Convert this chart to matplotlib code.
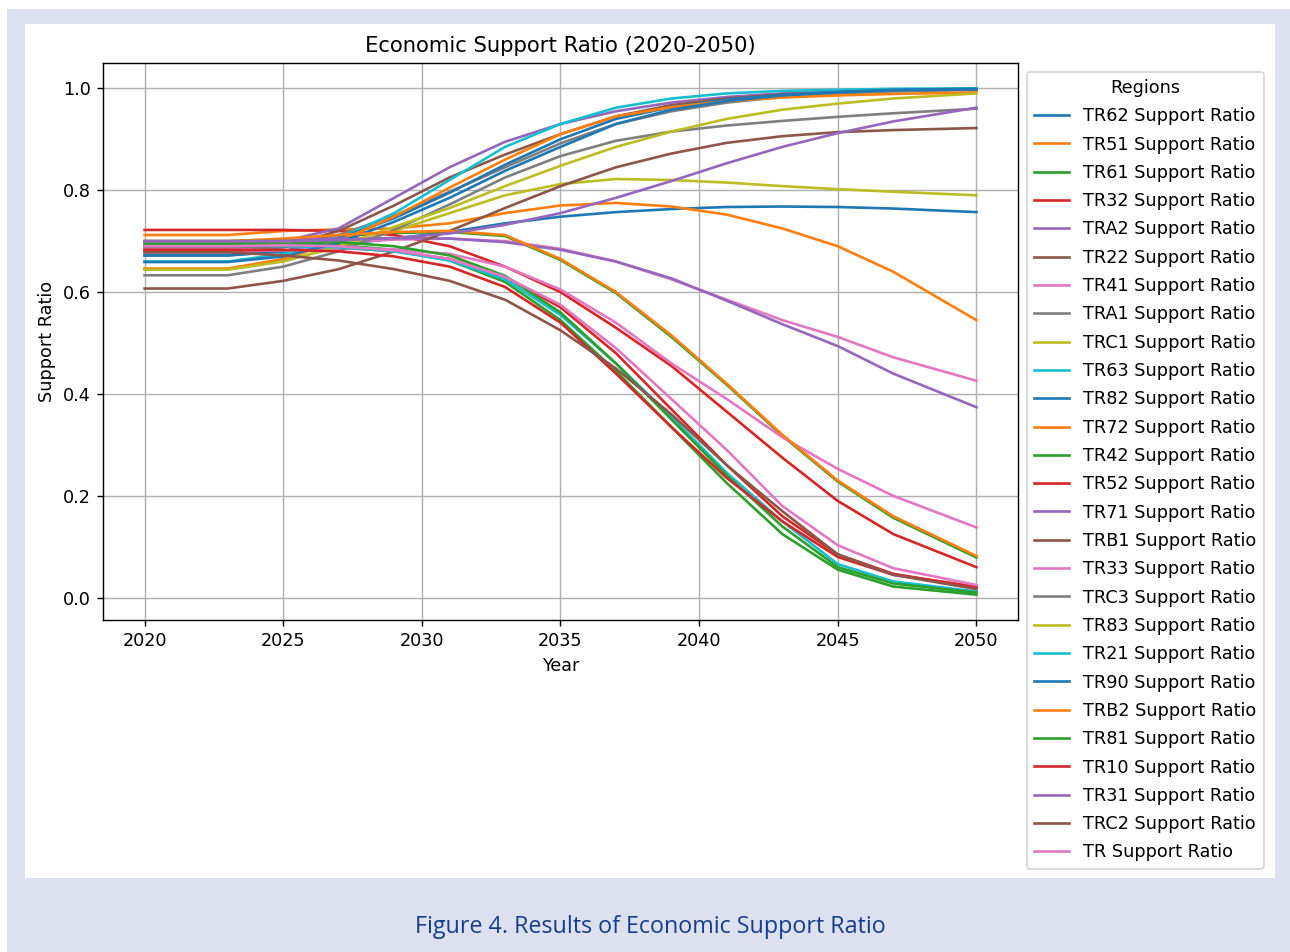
import matplotlib
matplotlib.use("Agg")
import matplotlib.pyplot as plt
from matplotlib.patches import Rectangle

# Projection years (series are flat until 2023, then diverge)
years = [2020, 2023, 2025, 2027, 2029, 2031, 2033, 2035, 2037, 2039, 2041, 2043, 2045, 2047, 2050]

TR62 = [0.672, 0.672, 0.680, 0.693, 0.705, 0.718, 0.735, 0.748, 0.757, 0.763, 0.767, 0.768, 0.767, 0.764, 0.757]
TR51 = [0.712, 0.712, 0.720, 0.723, 0.725, 0.735, 0.755, 0.770, 0.775, 0.768, 0.752, 0.725, 0.690, 0.640, 0.545]
TR61 = [0.698, 0.698, 0.703, 0.710, 0.716, 0.718, 0.710, 0.663, 0.598, 0.512, 0.418, 0.318, 0.228, 0.157, 0.079]
TR32 = [0.722, 0.722, 0.722, 0.720, 0.712, 0.690, 0.650, 0.600, 0.530, 0.455, 0.365, 0.275, 0.190, 0.125, 0.060]
TRA2 = [0.697, 0.697, 0.700, 0.725, 0.785, 0.845, 0.895, 0.930, 0.955, 0.972, 0.983, 0.990, 0.994, 0.997, 0.999]
TR22 = [0.680, 0.680, 0.690, 0.720, 0.770, 0.825, 0.870, 0.910, 0.945, 0.967, 0.980, 0.988, 0.993, 0.996, 0.998]
TR41 = [0.685, 0.685, 0.690, 0.697, 0.703, 0.705, 0.700, 0.685, 0.660, 0.625, 0.585, 0.545, 0.512, 0.472, 0.426]
TRA1 = [0.678, 0.678, 0.688, 0.712, 0.750, 0.797, 0.845, 0.892, 0.930, 0.955, 0.972, 0.983, 0.990, 0.994, 0.997]
TRC1 = [0.646, 0.646, 0.662, 0.688, 0.720, 0.755, 0.790, 0.812, 0.822, 0.820, 0.815, 0.808, 0.802, 0.797, 0.790]
TR63 = [0.660, 0.660, 0.675, 0.705, 0.755, 0.820, 0.885, 0.930, 0.962, 0.980, 0.990, 0.995, 0.997, 0.999, 1.000]
TR82 = [0.672, 0.672, 0.680, 0.705, 0.745, 0.795, 0.850, 0.900, 0.940, 0.963, 0.978, 0.987, 0.993, 0.997, 0.999]
TR72 = [0.646, 0.646, 0.665, 0.700, 0.748, 0.805, 0.860, 0.910, 0.945, 0.963, 0.975, 0.982, 0.986, 0.989, 0.992]
TR42 = [0.695, 0.695, 0.695, 0.692, 0.683, 0.662, 0.620, 0.545, 0.445, 0.335, 0.225, 0.125, 0.055, 0.022, 0.006]
TR52 = [0.688, 0.688, 0.690, 0.688, 0.680, 0.665, 0.630, 0.570, 0.480, 0.370, 0.260, 0.160, 0.085, 0.047, 0.020]
TR71 = [0.700, 0.700, 0.702, 0.705, 0.706, 0.705, 0.698, 0.683, 0.660, 0.627, 0.583, 0.537, 0.494, 0.440, 0.374]
TRB1 = [0.607, 0.607, 0.622, 0.645, 0.680, 0.720, 0.765, 0.808, 0.845, 0.872, 0.893, 0.906, 0.914, 0.918, 0.922]
TR33 = [0.680, 0.680, 0.682, 0.685, 0.684, 0.675, 0.650, 0.605, 0.540, 0.460, 0.390, 0.315, 0.253, 0.200, 0.138]
TRC3 = [0.633, 0.633, 0.650, 0.680, 0.722, 0.772, 0.825, 0.867, 0.897, 0.915, 0.927, 0.936, 0.944, 0.951, 0.960]
TR83 = [0.644, 0.644, 0.660, 0.690, 0.728, 0.765, 0.808, 0.848, 0.885, 0.915, 0.940, 0.958, 0.970, 0.980, 0.990]
TR21 = [0.690, 0.690, 0.690, 0.688, 0.680, 0.662, 0.625, 0.555, 0.460, 0.355, 0.245, 0.150, 0.066, 0.032, 0.012]
TR90 = [0.659, 0.659, 0.670, 0.697, 0.738, 0.785, 0.838, 0.885, 0.930, 0.958, 0.975, 0.986, 0.992, 0.996, 0.998]
TRB2 = [0.700, 0.700, 0.705, 0.712, 0.718, 0.720, 0.712, 0.665, 0.600, 0.515, 0.420, 0.320, 0.230, 0.160, 0.082]
TR81 = [0.700, 0.700, 0.700, 0.698, 0.690, 0.672, 0.632, 0.560, 0.460, 0.350, 0.240, 0.140, 0.060, 0.028, 0.010]
TR10 = [0.682, 0.682, 0.683, 0.680, 0.670, 0.650, 0.610, 0.540, 0.440, 0.335, 0.235, 0.150, 0.080, 0.045, 0.022]
TR31 = [0.700, 0.700, 0.700, 0.702, 0.706, 0.715, 0.732, 0.755, 0.785, 0.818, 0.853, 0.885, 0.912, 0.935, 0.962]
TRC2 = [0.678, 0.678, 0.672, 0.662, 0.645, 0.622, 0.585, 0.525, 0.450, 0.360, 0.260, 0.170, 0.085, 0.045, 0.017]
TR = [0.690, 0.690, 0.692, 0.690, 0.682, 0.665, 0.630, 0.575, 0.490, 0.390, 0.290, 0.180, 0.103, 0.058, 0.025]

region_names = ["TR62", "TR51", "TR61", "TR32", "TRA2", "TR22", "TR41", "TRA1", "TRC1",
                "TR63", "TR82", "TR72", "TR42", "TR52", "TR71", "TRB1", "TR33", "TRC3",
                "TR83", "TR21", "TR90", "TRB2", "TR81", "TR10", "TR31", "TRC2", "TR"]
region_values = [TR62, TR51, TR61, TR32, TRA2, TR22, TR41, TRA1, TRC1,
                 TR63, TR82, TR72, TR42, TR52, TR71, TRB1, TR33, TRC3,
                 TR83, TR21, TR90, TRB2, TR81, TR10, TR31, TRC2, TR]

DPI = 127
fig = plt.figure(figsize=(1290 / DPI, 952 / DPI), dpi=DPI)
fig.patch.set_facecolor("white")

# page background and white card
W, H = 1290.0, 952.0
fig.patches.append(Rectangle((7 / W, 0), 1 - 7 / W, (H - 9) / H,
                             transform=fig.transFigure, facecolor="#dde0ee",
                             edgecolor="none", zorder=-10))
fig.patches.append(Rectangle((25 / W, (H - 878) / H), 1250 / W, (878 - 24) / H,
                             transform=fig.transFigure, facecolor="white",
                             edgecolor="none", zorder=-9))

ax = fig.add_axes([103 / W, (H - 620) / H, 915 / W, 557 / H])
for name, vals in zip(region_names, region_values):
    ax.plot(years, vals, label=f"{name} Support Ratio")

ax.set_title("Economic Support Ratio (2020-2050)")
ax.set_xlabel("Year")
ax.set_ylabel("Support Ratio")
ax.grid(True)
ax.legend(title="Regions", loc="upper left", bbox_to_anchor=(1, 1),
          labelspacing=0.585)

fig.text(650 / W, (H - 927) / H, "Figure 4. Results of Economic Support Ratio",
         ha="center", va="center", fontsize=13.2, color="#173e8c",
         family=["Open Sans", "DejaVu Sans"])

fig.savefig("out.png", dpi=DPI)
